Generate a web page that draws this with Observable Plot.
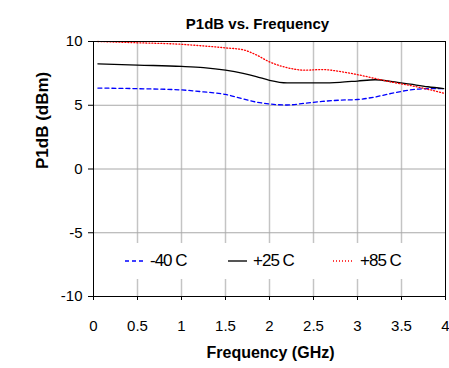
<!DOCTYPE html>
<html>
<head>
<meta charset="utf-8">
<script src="https://cdn.jsdelivr.net/npm/d3@7"></script>
<script src="https://cdn.jsdelivr.net/npm/@observablehq/plot@0.6"></script>
<style>
  html, body { margin: 0; padding: 0; background: #fff; }
  #wrap { position: relative; width: 449px; height: 368px; font-family: "Liberation Sans", Arial, sans-serif; }
  #legend { position: absolute; left: 95px; top: 243px; width: 349px; height: 36px; background: #fff; }
  .item { position: absolute; top: 0; height: 36px; display: flex; align-items: center; font-size: 17px; letter-spacing: -1px; color: #000; }
  .item svg { margin-right: 6px; }
</style>
</head>
<body>
<div id="wrap"></div>
<script>
const freq = [0.05, 0.5, 1.0, 1.25, 1.5, 1.7, 1.85, 2.0, 2.2, 2.4, 2.6, 2.8, 3.0, 3.2, 3.4, 3.6, 3.8, 3.98];
const m40  = [6.35, 6.3, 6.2, 6.05, 5.85, 5.5, 5.25, 5.1, 5.02, 5.15, 5.3, 5.4, 5.45, 5.65, 5.95, 6.2, 6.3, 6.3];
const p25  = [8.25, 8.15, 8.05, 7.95, 7.75, 7.5, 7.25, 6.95, 6.75, 6.75, 6.75, 6.8, 6.9, 7.0, 6.85, 6.65, 6.45, 6.3];
const p85  = [10.0, 9.9, 9.78, 9.65, 9.5, 9.35, 8.95, 8.4, 7.95, 7.75, 7.8, 7.65, 7.4, 7.1, 6.8, 6.55, 6.25, 5.95];
const xTicks = [0, 0.5, 1, 1.5, 2, 2.5, 3, 3.5, 4];
const yTicks = [-10, -5, 0, 5, 10];
const seriesNames = ["-40 C", "+25 C", "+85 C"];
const seriesColors = ["#0000ff", "#000000", "#ff0000"];
const seriesDash = ["4,3", null, "1,2"];
const seriesValues = [m40, p25, p85];

const rows = [];
seriesNames.forEach((s, i) => freq.forEach((f, j) => rows.push({series: s, f, v: seriesValues[i][j]})));

const plot = Plot.plot({
  width: 449,
  height: 368,
  marginLeft: 93,
  marginRight: 4,
  marginTop: 41,
  marginBottom: 72,
  style: {fontFamily: "'Liberation Sans', Arial, sans-serif", fontSize: "15px", color: "#000", background: "#fff"},
  x: {domain: [0, 4], label: null},
  y: {domain: [-10, 10], label: null},
  marks: [
    Plot.ruleX(xTicks.filter(d => d > 0 && d < 4), {stroke: "#c4c4c4", strokeWidth: 1.5}),
    Plot.ruleY(yTicks.filter(d => d > -10 && d < 10), {stroke: "#a8a8a8", strokeWidth: 1}),
    ...seriesNames.map((s, i) => Plot.line(rows.filter(r => r.series === s), {
      x: "f", y: "v", stroke: seriesColors[i], strokeWidth: 1.3,
      strokeDasharray: seriesDash[i], curve: "monotone-x"
    })),
    Plot.frame({stroke: "#000", strokeWidth: 1}),
    Plot.axisX({ticks: xTicks, tickSize: 4, tickPadding: 20, label: null, fontSize: 15, tickFormat: d => String(d)}),
    Plot.axisY({ticks: yTicks, tickSize: 5, tickPadding: 6, label: null, fontSize: 15, tickFormat: d => String(d)}),
    Plot.text(["P1dB vs. Frequency"], {frameAnchor: "top", dx: -12, dy: -23, fontWeight: "bold", fontSize: 15, text: d => d, letterSpacing: "-0.4px"}),
    Plot.text(["Frequency (GHz)"], {frameAnchor: "bottom", dx: 1, dy: 61, fontWeight: "bold", fontSize: 16, text: d => d, letterSpacing: "-0.8px"}),
    Plot.text(["P1dB (dBm)"], {frameAnchor: "left", dx: -51, rotate: -90, fontWeight: "bold", fontSize: 17, text: d => d})
  ]
});

const wrap = document.getElementById("wrap");
wrap.appendChild(plot);

const legend = document.createElement("div");
legend.id = "legend";
const lefts = [30, 133, 238];
const swW = [19, 19, 21];
seriesNames.forEach((s, i) => {
  const it = document.createElement("div");
  it.className = "item";
  it.style.left = lefts[i] + "px";
  const dash = seriesDash[i] ? ` stroke-dasharray="${seriesDash[i]}"` : "";
  const sw = i === 1 ? 2 : 1.3;
  const col = i === 1 ? "#555" : seriesColors[i];
  it.innerHTML = `<svg width="${swW[i]}" height="4"><line x1="0" y1="2" x2="${swW[i]}" y2="2" stroke="${col}" stroke-width="${sw}"${dash}/></svg><span>${s}</span>`;
  legend.appendChild(it);
});
wrap.appendChild(legend);
</script>
</body>
</html>
